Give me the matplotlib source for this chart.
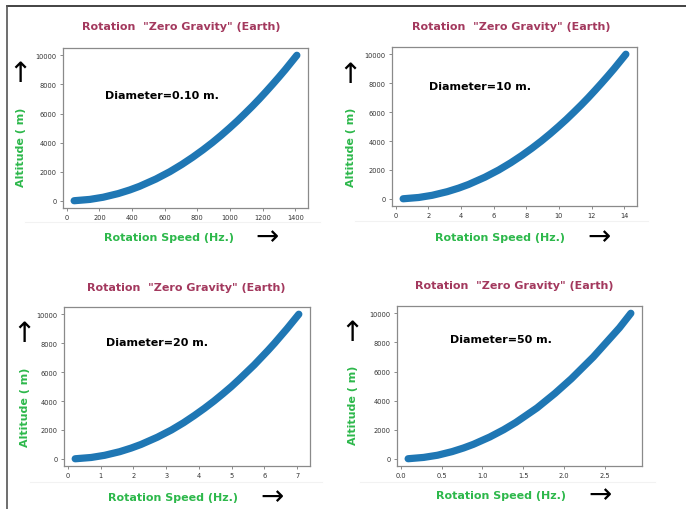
import matplotlib
matplotlib.use("Agg")
import matplotlib.pyplot as plt
from matplotlib.lines import Line2D

W, H = 686, 510

# altitude (m)
altitude = [10, 100, 250, 500, 750, 1000, 1500, 2000, 2500, 3000, 3500, 4000,
            4500, 5000, 5500, 6000, 6500, 7000, 7500, 8000, 8500, 9000, 9500, 10000]

# rotation speed (Hz.) for each diameter
speed_d010 = [45, 141, 223, 315, 386, 446, 546, 631, 705, 772, 834, 892,
              946, 997, 1046, 1092, 1137, 1180, 1221, 1261, 1300, 1338, 1374, 1410]
speed_d10 = [0.45, 1.41, 2.23, 3.15, 3.86, 4.46, 5.46, 6.31, 7.05, 7.72, 8.34, 8.92,
             9.46, 9.97, 10.46, 10.92, 11.37, 11.80, 12.21, 12.61, 13.00, 13.38, 13.74, 14.10]
speed_d20 = [0.22, 0.71, 1.12, 1.58, 1.93, 2.23, 2.73, 3.16, 3.53, 3.86, 4.17, 4.46,
             4.73, 4.99, 5.23, 5.46, 5.69, 5.90, 6.11, 6.31, 6.50, 6.69, 6.87, 7.05]
speed_d50 = [0.09, 0.28, 0.45, 0.63, 0.77, 0.89, 1.09, 1.26, 1.41, 1.54, 1.67, 1.78,
             1.89, 1.99, 2.09, 2.18, 2.27, 2.36, 2.44, 2.52, 2.60, 2.68, 2.75, 2.82]

labels = ["Diameter=0.10 m.", "Diameter=10 m.", "Diameter=20 m.", "Diameter=50 m."]
speeds = [speed_d010, speed_d10, speed_d20, speed_d50]

title_txt = 'Rotation  "Zero Gravity" (Earth)'
title_col = '#a3395e'
green = '#2db84b'

# pixel layout of each pasted panel: axes box, title, ylabel, up arrow, text, xlabel, right arrow
panels = [
    dict(ax=(63, 49, 308, 209), title=(181, 27), ylab=(21, 147), up=(20, 74),
         diam=(105, 96), xlab=(169, 238), right=(267, 237), line=(25, 223, 320)),
    dict(ax=(392, 48, 637, 207), title=(511, 27), ylab=(351, 147), up=(350, 75),
         diam=(429, 87), xlab=(500, 238), right=(599, 237), line=(355, 222, 648)),
    dict(ax=(64, 308, 310, 467), title=(186, 288), ylab=(25, 407), up=(24, 334),
         diam=(106, 343), xlab=(173, 498), right=(272, 497), line=(30, 483, 322)),
    dict(ax=(397, 307, 642, 467), title=(514, 286), ylab=(353, 405), up=(352, 333),
         diam=(450, 340), xlab=(501, 496), right=(600, 495), line=(360, 483, 655)),
]

fig = plt.figure(figsize=(W / 100, H / 100), dpi=100)
fig.patch.set_facecolor('white')


def fx(x):
    return x / W


def fy(y):
    return 1 - y / H


for p, sp, lab in zip(panels, speeds, labels):
    x0, y0, x1, y1 = p['ax']
    ax = fig.add_axes([fx(x0), fy(y1), (x1 - x0) / W, (y1 - y0) / H])
    ax.plot(sp, altitude, color='#1f77b4', lw=5.2, solid_capstyle='round',
            solid_joinstyle='round')
    ax.margins(0.05)
    for s in ax.spines.values():
        s.set_color('#8a8a8a')
        s.set_linewidth(0.9)
    ax.tick_params(labelsize=4.8, colors='#8a8a8a', labelcolor='#333333',
                   length=2.5, width=0.7, pad=2)
    ax.set_yticks([0, 2000, 4000, 6000, 8000, 10000])

    fig.text(fx(p['title'][0]), fy(p['title'][1]), title_txt, color=title_col,
             fontsize=8, fontweight='bold', ha='center', va='center')
    fig.text(fx(p['ylab'][0]), fy(p['ylab'][1]), 'Altitude ( m)', color=green,
             fontsize=8, fontweight='bold', rotation=90, ha='center', va='center')
    fig.text(fx(p['up'][0]), fy(p['up'][1]), '\u2191', color='black',
             fontsize=20, ha='center', va='center')
    fig.text(fx(p['diam'][0]), fy(p['diam'][1]), lab, color='black',
             fontsize=8, fontweight='bold', ha='left', va='center')
    fig.text(fx(p['xlab'][0]), fy(p['xlab'][1]), 'Rotation Speed (Hz.)', color=green,
             fontsize=8, fontweight='bold', ha='center', va='center')
    fig.text(fx(p['right'][0]), fy(p['right'][1]), '\u2192', color='black',
             fontsize=20, ha='center', va='center')
    lx0, ly, lx1 = p['line']
    fig.add_artist(Line2D([fx(lx0), fx(lx1)], [fy(ly), fy(ly)], color='#f2f2f2', lw=0.8))

# frame of the page
fig.add_artist(Line2D([fx(7), fx(686)], [fy(7), fy(7)], color='#222222', lw=1.2))
fig.add_artist(Line2D([fx(7), fx(7)], [fy(7), fy(510)], color='#555555', lw=1.2))

fig.savefig('out.png', dpi=100, facecolor='white')
